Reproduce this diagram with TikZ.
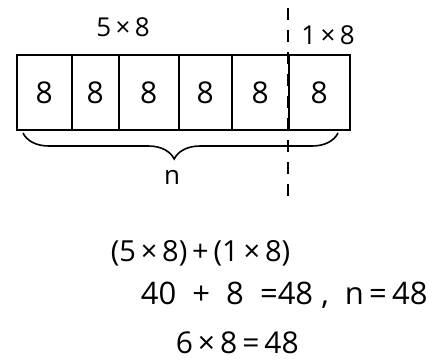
\documentclass[tikz,border=0pt]{standalone}
\usepackage{fontspec}
\setmainfont{Open Sans}
\usetikzlibrary{decorations.pathreplacing, positioning}

\begin{document}
\begin{tikzpicture}[x=0.5pt, y=-0.5pt, line width=0.8pt,
  cell/.style={draw, minimum height=37.5pt, inner sep=0pt, anchor=west,
    font=\fontsize{15}{16}\selectfont},
  tag/.style={inner sep=0pt, font=\fontsize{13}{14}\selectfont},
  sum/.style={inner sep=0pt, anchor=west, font=\fontsize{14.5}{16}\selectfont},
  cut/.style={dash pattern=on 6pt off 5pt}]
\useasboundingbox (0,0) rectangle (445,360);
% strip of six eights
\foreach \a/\b [count=\i] in {16/71,71/118,118/178,178/231,231/288,288/349}
  \node[cell, minimum width={(\b-\a)*0.5pt}] (cell\i) at (\a,92.5) {8};
\node[tag] (fivelab) at (123,27) {5\,×\,8};
\node[tag] (onelab) at (328,35) {1\,×\,8};
% split line
\coordinate (cuttop) at (288,8);
\coordinate (cutbot) at (288,198);
\draw[cut] (cuttop) -- (cutbot);
% brace over the whole strip
\coordinate (brl) at (23,133);
\coordinate (brr) at (338,133);
\draw[decorate, decoration={brace, mirror, amplitude=13pt, aspect=0.48}] (brl) -- (brr);
\node[tag] (nlab) at (172,177) {n};
% working
\node[sum] (sumone) at (110,253) {(5\,×\,8)\,+\,(1\,×\,8)};
\node[sum, font=\fontsize{15.5}{16}\selectfont] (sumtwo) at (140,295) {40\ \ +\ \ 8\ \ =48\ ,\ \ n\,=\,48};
\node[sum, font=\fontsize{15}{16}\selectfont] (sumthree) at (175,343) {6\,×\,8\,=\,48};
\end{tikzpicture}
\end{document}
